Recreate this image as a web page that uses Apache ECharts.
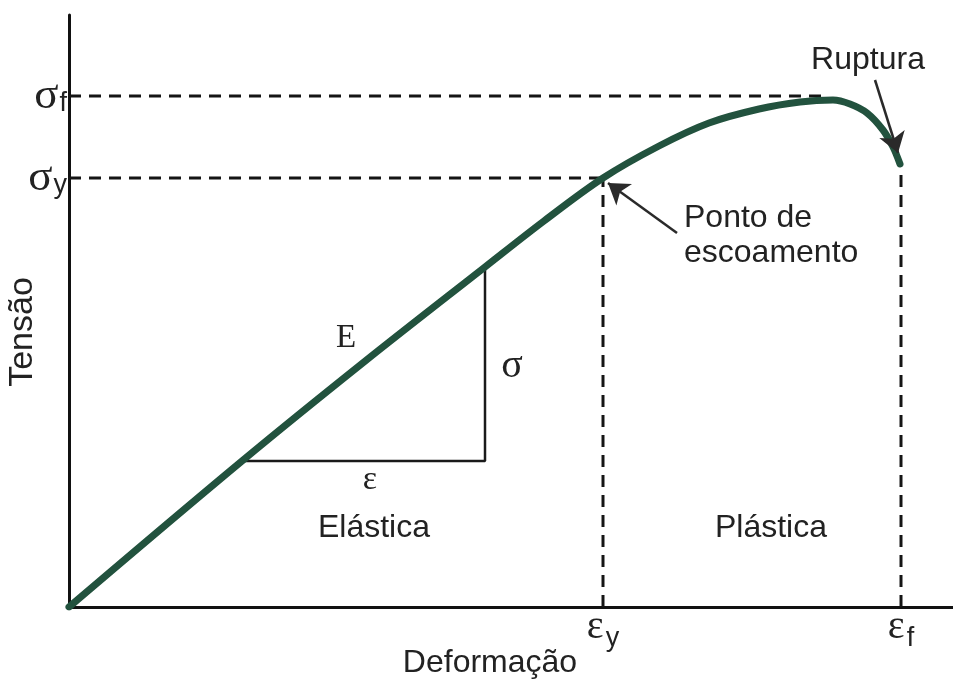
<!DOCTYPE html>
<html>
<head>
<meta charset="utf-8">
<script src="https://cdn.jsdelivr.net/npm/echarts@6/dist/echarts.min.js"></script>
<style>
  html, body { margin: 0; padding: 0; background: #ffffff; }
  #chart { width: 953px; height: 683px; }
</style>
</head>
<body>
<div id="chart"></div>
<script>
// Curva tensão–deformação (unidades arbitrárias)
const deformacao = [0, 173, 295, 416, 475, 534, 590, 640, 690, 731, 764, 781, 798, 814, 824, 831];
const tensao     = [0, 146, 245, 340, 386, 429, 461, 484, 498, 505, 507, 503, 494, 477, 460, 443];

// Pontos característicos
const epsY = 534;    // deformação de escoamento
const epsF = 832;    // deformação na ruptura
const sigY = 429;    // tensão de escoamento
const sigF = 511;    // tensão máxima
const xPico = 752;   // fim da linha tracejada de σf
const tensaoRuptura = 443;

// Triângulo do módulo E (vértices sobre o trecho elástico)
const trianguloX = [173, 416, 416];
const trianguloY = [146, 146, 340];

// Rótulos dos eixos
const marcasTensao = [sigY, sigF];
const rotulosTensao = ['y', 'f'];
const marcasDeformacao = [epsY, epsF];
const rotulosDeformacao = ['y', 'f'];

// Setas de anotação: [origem, ponta]
const setaEscoamento = [[608, 374], [539, 424]];
const setaRuptura = [[806, 527], [829, 454]];

const pares = (xs, ys) => xs.map((x, i) => [x, ys[i]]);

const chart = echarts.init(document.getElementById('chart'), null, { renderer: 'canvas' });

const corCurva = '#22523e';
const corTraco = '#151515';
const corTexto = '#222222';
const tracejado = { color: corTraco, width: 3, type: [12, 8] };

const richTick = {
  g: { fontFamily: 'Liberation Serif', fontSize: 45, color: corTexto, verticalAlign: 'top', lineHeight: 44 },
  s: { fontFamily: 'Liberation Sans', fontSize: 27, color: corTexto, verticalAlign: 'top', lineHeight: 44, padding: [16, 0, 0, 1] }
};
const richTickX = {
  g: { fontFamily: 'Liberation Serif', fontSize: 40, color: corTexto, verticalAlign: 'top', lineHeight: 40 },
  s: { fontFamily: 'Liberation Sans', fontSize: 27, color: corTexto, verticalAlign: 'top', lineHeight: 40, padding: [18, 0, 0, 2] }
};

const option = {
  backgroundColor: '#ffffff',
  animation: false,
  grid: { left: 69, right: 0, top: 15, bottom: 76, outerBoundsMode: 'none' },
  xAxis: {
    type: 'value', min: 0, max: 884,
    axisLine: { show: true, onZero: false, lineStyle: { color: '#111', width: 3 } },
    axisTick: { show: false },
    splitLine: { show: false },
    axisLabel: {
      customValues: marcasDeformacao,
      margin: 0,
      formatter: v => '{g|ε}{s|' + rotulosDeformacao[marcasDeformacao.indexOf(v)] + '}',
      rich: richTickX
    }
  },
  yAxis: {
    type: 'value', min: 0, max: 592,
    axisLine: { show: true, onZero: false, lineStyle: { color: '#111', width: 3 } },
    axisTick: { show: false },
    splitLine: { show: false },
    axisLabel: {
      customValues: marcasTensao,
      margin: 2,
      formatter: v => '{g|σ}{s|' + rotulosTensao[marcasTensao.indexOf(v)] + '}',
      rich: richTick
    }
  },
  series: [
    { // linhas tracejadas de referência
      type: 'line', symbol: 'none', silent: true, z: 1,
      data: [[0, sigF], [xPico, sigF]], lineStyle: tracejado
    },
    {
      type: 'line', symbol: 'none', silent: true, z: 1,
      data: [[0, sigY], [epsY, sigY]], lineStyle: tracejado
    },
    {
      type: 'line', symbol: 'none', silent: true, z: 1,
      data: [[epsY, 0], [epsY, sigY]], lineStyle: tracejado
    },
    {
      type: 'line', symbol: 'none', silent: true, z: 1,
      data: [[epsF, 0], [epsF, tensaoRuptura - 6]], lineStyle: tracejado
    },
    { // triângulo
      type: 'line', symbol: 'none', silent: true, z: 2,
      data: pares(trianguloX, trianguloY),
      lineStyle: { color: '#1a1a1a', width: 2.5 }
    },
    { // curva tensão-deformação
      type: 'line', symbol: 'none', silent: true, z: 5,
      smooth: 0.35,
      data: pares(deformacao, tensao),
      lineStyle: { color: corCurva, width: 7, cap: 'round' }
    },
    { // setas
      type: 'lines', coordinateSystem: 'cartesian2d', silent: true, z: 6,
      symbol: ['none', 'arrow'], symbolSize: [11, 20],
      lineStyle: { color: '#2a2a2a', width: 2.5, opacity: 1 },
      data: [{ coords: setaEscoamento }, { coords: setaRuptura }]
    }
  ],
  graphic: [
    { type: 'text', x: 868, y: 60, style: { text: 'Ruptura', font: '32px "Liberation Sans"', fill: corTexto, align: 'center', verticalAlign: 'middle' } },
    { type: 'text', x: 684, y: 236, style: { text: 'Ponto de\nescoamento', font: '32px "Liberation Sans"', lineHeight: 35, fill: corTexto, align: 'left', verticalAlign: 'middle' } },
    { type: 'text', x: 346, y: 338, style: { text: 'E', font: '33px "Liberation Serif"', fill: corTexto, align: 'center', verticalAlign: 'middle' } },
    { type: 'text', x: 512, y: 366, style: { text: 'σ', font: '40px "Liberation Serif"', fill: corTexto, align: 'center', verticalAlign: 'middle' } },
    { type: 'text', x: 370, y: 480, style: { text: 'ε', font: '34px "Liberation Serif"', fill: corTexto, align: 'center', verticalAlign: 'middle' } },
    { type: 'text', x: 374, y: 528, style: { text: 'Elástica', font: '32px "Liberation Sans"', fill: corTexto, align: 'center', verticalAlign: 'middle' } },
    { type: 'text', x: 771, y: 528, style: { text: 'Plástica', font: '32px "Liberation Sans"', fill: corTexto, align: 'center', verticalAlign: 'middle' } },
    { type: 'text', x: 490, y: 663, style: { text: 'Deformação', font: '32px "Liberation Sans"', fill: corTexto, align: 'center', verticalAlign: 'middle' } },
    { type: 'text', x: 23, y: 332, rotation: Math.PI / 2, style: { text: 'Tensão', font: '34px "Liberation Sans"', fill: corTexto, align: 'center', verticalAlign: 'middle' } }
  ]
};

chart.setOption(option);
</script>
</body>
</html>
